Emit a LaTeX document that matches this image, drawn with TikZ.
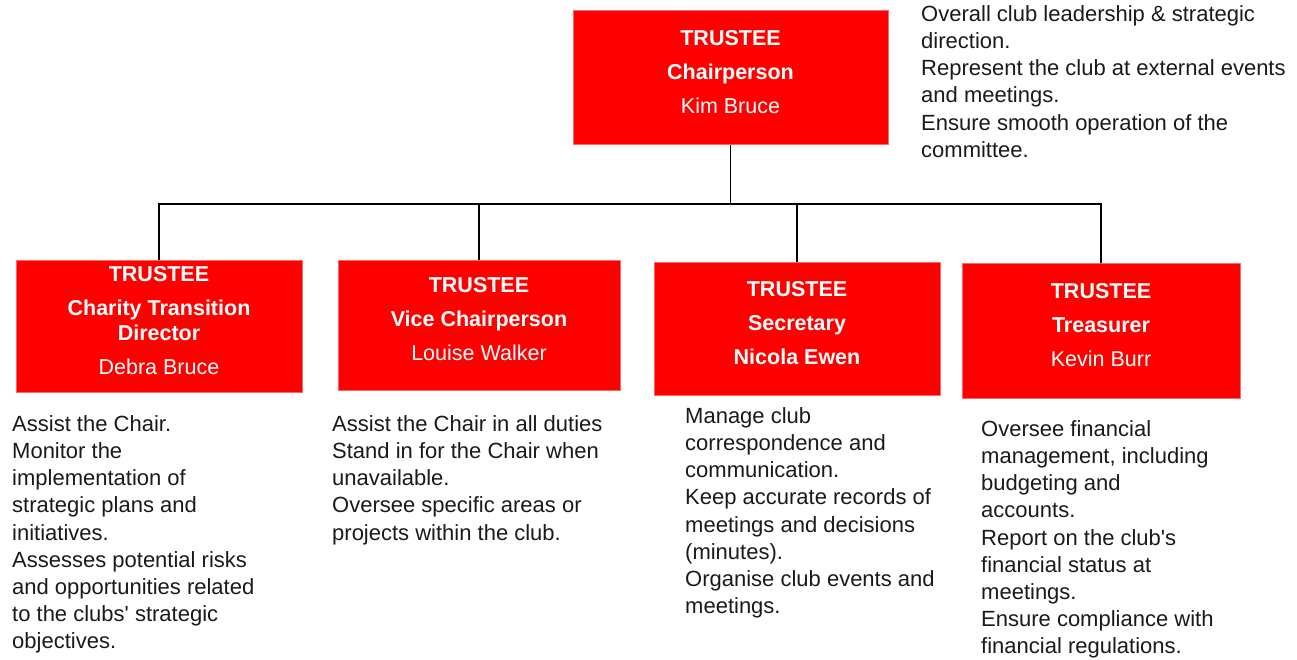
\documentclass[tikz,border=0pt]{standalone}
\usepackage{fontspec}
\setmainfont{Liberation Sans}
\newfontfamily\straightq{Liberation Sans}
\definecolor{boxred}{HTML}{FF0000}
\definecolor{boxedge}{HTML}{F26A6A}
\definecolor{desctext}{HTML}{1A1A1A}
\begin{document}
\begin{tikzpicture}[x=1pt,y=-1pt,
  box/.style={fill=boxred,draw=boxedge,line width=0.6pt,inner sep=0pt,align=center,text=white,
    font=\fontsize{21.5}{25}\selectfont},
  desc/.style={anchor=north west,inner sep=0pt,align=left,text=desctext,
    font=\fontsize{22}{27.2}\selectfont},
  link/.style={draw=black,line width=1.1pt}]
\useasboundingbox (0,0) rectangle (1297,659);
\newcommand{\dpt}{\rule[-12pt]{0pt}{12pt}}
\newcommand{\sq}{{\straightq'}}
% boxes
\node[box,minimum width=315pt,minimum height=134pt] (top) at (730.5,77.5)
  {\textbf{TRUSTEE}\\[9pt]\textbf{Chairperson}\\[9pt]Kim Bruce\dpt};
\node[box,minimum width=286pt,minimum height=132pt] (b1) at (159,326)
  {\textbf{TRUSTEE}\\[9pt]\textbf{Charity Transition}\\\textbf{Director}\\[9pt]Debra Bruce\dpt};
\node[box,minimum width=282pt,minimum height=130pt] (b2) at (479,325)
  {\textbf{TRUSTEE}\\[9pt]\textbf{Vice Chairperson}\\[9pt]Louise Walker\dpt};
\node[box,minimum width=286pt,minimum height=133pt] (b3) at (797,328.5)
  {\textbf{TRUSTEE}\\[9pt]\textbf{Secretary}\\[9pt]\textbf{Nicola Ewen}\dpt};
\node[box,minimum width=278pt,minimum height=135pt] (b4) at (1101,330.5)
  {\textbf{TRUSTEE}\\[9pt]\textbf{Treasurer}\\[9pt]Kevin Burr\dpt};
% connectors
\coordinate (j) at (730.5,204);
\draw[link] (top.south) -- (j);
\draw[link] (b1.north) |- (j);
\draw[link] (b2.north) |- (j);
\draw[link] (b3.north) |- (j);
\draw[link] (b4.north) |- (j);
% descriptions
\node[desc] (d0) at (921,2) {\strut Overall club leadership \& strategic\\direction.\\Represent the club at external events\\and meetings.\\Ensure smooth operation of the\\committee.};
\node[desc] (d1) at (12,412) {\strut Assist the Chair.\\Monitor the\\implementation of\\strategic plans and\\initiatives.\\Assesses potential risks\\and opportunities related\\to the clubs\sq{} strategic\\objectives.};
\node[desc] (d2) at (332,412) {\strut Assist the Chair in all duties\\Stand in for the Chair when\\unavailable.\\Oversee specific areas or\\projects within the club.};
\node[desc] (d3) at (685,404) {\strut Manage club\\correspondence and\\communication.\\Keep accurate records of\\meetings and decisions\\(minutes).\\Organise club events and\\meetings.};
\node[desc] (d4) at (981,417) {\strut Oversee financial\\management, including\\budgeting and\\accounts.\\Report on the club\sq{}s\\financial status at\\meetings.\\Ensure compliance with\\financial regulations.};
\end{tikzpicture}
\end{document}
